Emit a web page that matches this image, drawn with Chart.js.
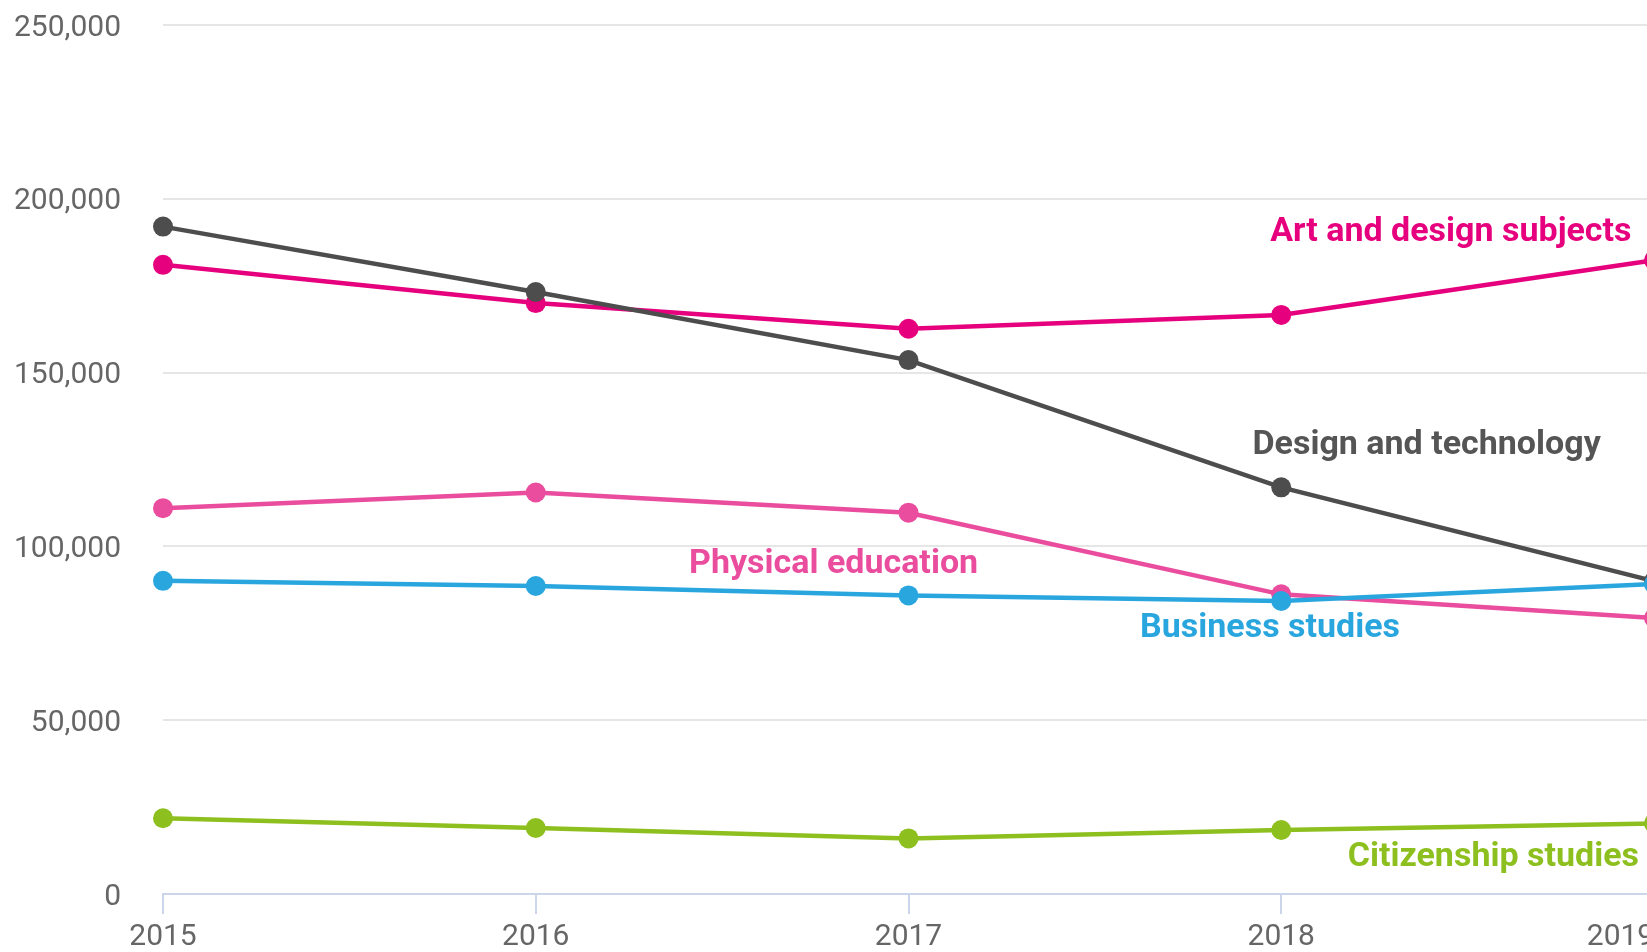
<!DOCTYPE html>
<html>
<head>
<meta charset="utf-8">
<script src="https://cdn.jsdelivr.net/npm/chart.js@4"></script>
<style>
  html, body { margin: 0; padding: 0; background: #fff; overflow: hidden; }
  #wrap { width: 1734px; height: 952px; }
</style>
</head>
<body>
<div id="wrap"><canvas id="entriesChart" width="1734" height="952"></canvas></div>
<script>
// Anos e entradas por disciplina
const years = ['2015', '2016', '2017', '2018', '2019'];
const designTech = [192000, 173200, 153600, 117000, 90000];
const artDesign = [181000, 170000, 162600, 166600, 182300];
const physicalEd = [111000, 115500, 109700, 86200, 79400];
const business = [90100, 88600, 85900, 84300, 89200];
const citizenship = [21800, 19000, 16000, 18400, 20300];
const yTicks = [0, 50000, 100000, 150000, 200000, 250000];

// Rótulos das séries (posição em coordenadas de dados)
const seriesLabels = [
    { text: 'Art and design subjects', color: '#e6007e', x: 3.455, y: 190400 },
    { text: 'Design and technology', color: '#555555', x: 3.39, y: 129100 },
    { text: 'Physical education', color: '#ea4c9e', x: 1.799, y: 94900 },
    { text: 'Business studies', color: '#2aa6df', x: 2.97, y: 76500 },
    { text: 'Citizenship studies', color: '#8dbf1f', x: 3.569, y: 10600 }
];

function serie(data, color) {
    return {
        data: data,
        borderColor: color,
        backgroundColor: color,
        borderWidth: 4.5,
        pointRadius: 10,
        pointBorderWidth: 0,
        pointBackgroundColor: color,
        tension: 0,
        fill: false
    };
}

const labelPlugin = {
    id: 'seriesLabels',
    afterDatasetsDraw(chart) {
        const ctx = chart.ctx;
        const xs = chart.scales.x, ys = chart.scales.y;
        ctx.save();
        ctx.font = 'bold 34px Roboto';
        ctx.textAlign = 'center';
        ctx.textBaseline = 'middle';
        seriesLabels.forEach(l => {
            ctx.fillStyle = l.color;
            ctx.fillText(l.text, xs.getPixelForValue(l.x), ys.getPixelForValue(l.y));
        });
        ctx.restore();
    }
};

const ctx = document.getElementById('entriesChart').getContext('2d');
new Chart(ctx, {
    type: 'line',
    data: {
        labels: years,
        datasets: [
            serie(citizenship, '#8dbf1f'),
            serie(business, '#2aa6df'),
            serie(physicalEd, '#ea4c9e'),
            serie(designTech, '#4d4d4d'),
            serie(artDesign, '#e6007e')
        ]
    },
    plugins: [labelPlugin],
    options: {
        responsive: false,
        animation: false,
        layout: { autoPadding: false, padding: { top: 25, right: 80, left: 0, bottom: 0 } },
        plugins: {
            legend: { display: false },
            tooltip: { enabled: false }
        },
        scales: {
            x: {
                offset: false,
                grid: { drawOnChartArea: false, drawTicks: true, tickLength: 20, color: '#ccd6eb', lineWidth: 2 },
                border: { color: '#ccd6eb', width: 2 },
                ticks: {
                    color: '#666666',
                    font: { family: 'Roboto', size: 30 },
                    padding: 5,
                    maxRotation: 0,
                    // o último rótulo fica encostado à borda, como no original
                    callback: (v, i) => i === years.length - 1 ? years[i] + '         ' : years[i]
                },
                afterFit(scale) { scale.height = 58; }
            },
            y: {
                min: 0,
                max: 250000,
                afterBuildTicks(scale) { scale.ticks = yTicks.map(v => ({ value: v })); },
                grid: { color: '#e6e6e6', lineWidth: 2, drawTicks: false },
                border: { display: false },
                ticks: {
                    color: '#666666',
                    font: { family: 'Roboto', size: 30 },
                    padding: 42,
                    labelOffset: 3,
                    callback: v => v.toLocaleString('en-US')
                },
                afterFit(scale) {
                    scale.width = 163;
                    scale.paddingTop = 0;
                    scale.paddingBottom = 0;
                }
            }
        }
    }
});
</script>
</body>
</html>
